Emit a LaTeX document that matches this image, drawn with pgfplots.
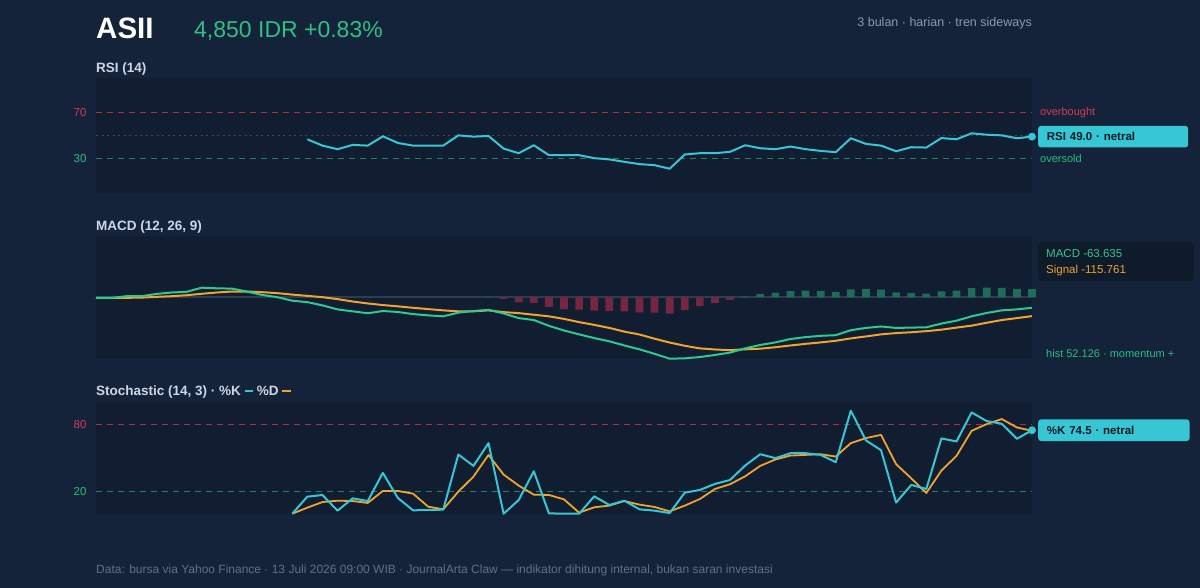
\documentclass[border=0pt]{standalone}
\usepackage{pgfplots}
\pgfplotsset{compat=1.18}
\usepackage{pgfplotstable}
\usepackage{fontspec}
\setmainfont{Liberation Sans}

\definecolor{pagebg}{RGB}{21,35,58}
\definecolor{panelbg}{RGB}{17,30,50}
\definecolor{cyanK}{RGB}{54,198,212}
\definecolor{macdgreen}{RGB}{46,200,145}
\definecolor{sigorange}{RGB}{240,163,45}
\definecolor{obred}{RGB}{214,58,86}
\definecolor{osgreen}{RGB}{38,190,130}
\definecolor{obdash}{RGB}{170,46,74}
\definecolor{osdash}{RGB}{34,130,102}
\definecolor{midgrey}{RGB}{60,75,96}
\definecolor{histred}{RGB}{118,38,64}
\definecolor{histgreen}{RGB}{31,108,88}
\definecolor{zeroline}{RGB}{46,60,80}
\definecolor{titlegrey}{RGB}{205,214,228}
\definecolor{subgrey}{RGB}{140,155,175}
\definecolor{footgrey}{RGB}{95,112,135}
\definecolor{boxdark}{RGB}{15,27,42}
\definecolor{labeltext}{RGB}{12,26,38}
\definecolor{pricegreen}{RGB}{46,192,132}

% RSI(14), daily closes, index 14..62
\pgfplotstableread{
i rsi
14 46.7
15 41.2
16 38.1
17 41.8
18 41.2
19 49.3
20 43.5
21 41.2
22 41.2
23 41.2
24 50.1
25 49.0
26 49.6
27 38.6
28 34.6
29 41.5
30 32.9
31 32.9
32 32.9
33 30.3
34 29.2
35 27.1
36 25.1
37 24.2
38 21.1
39 33.5
40 34.6
41 34.6
42 35.8
43 41.5
44 38.9
45 38.1
46 40.4
47 38.1
48 36.6
49 35.5
50 47.6
51 42.7
52 41.2
53 36.3
54 39.8
55 39.5
56 47.8
57 46.7
58 51.9
59 50.7
60 50.1
61 47.6
62 49.0
}\rsitable

% MACD line and signal line
\pgfplotstableread{
i macd signal
0 -2 -2
1 -3 -3
2 8 -2
3 8 -1
4 22 4
5 31 8
6 35 14
7 61 23
8 57 31
9 55 37
10 37 37
11 16 33
12 2 27
13 -20 18
14 -29 10
15 -49 2
16 -74 -10
17 -86 -25
18 -98 -37
19 -84 -47
20 -90 -55
21 -103 -64
22 -111 -72
23 -117 -80
24 -94 -86
25 -84 -86
26 -77 -80
27 -99 -91
28 -128 -97
29 -140 -107
30 -176 -117
31 -205 -133
32 -229 -153
33 -252 -170
34 -272 -189
35 -298 -212
36 -322 -230
37 -350 -256
38 -380 -280
39 -378 -300
40 -370 -316
41 -357 -323
42 -342 -327
43 -316 -322
44 -295 -318
45 -279 -309
46 -258 -298
47 -246 -288
48 -238 -279
49 -234 -269
50 -203 -254
51 -189 -242
52 -180 -229
53 -189 -221
54 -187 -216
55 -185 -209
56 -162 -200
57 -144 -187
58 -117 -175
59 -96 -157
60 -80 -140
61 -74 -128
62 -63.635 -115.761
}\macdtable

% histogram, negative bars
\pgfplotstableread{
i hist
27 -8
28 -31
29 -33
30 -59
31 -72
32 -76
33 -82
34 -83
35 -86
36 -92
37 -94
38 -100
39 -78
40 -54
41 -34
42 -15
}\histneg

% histogram, positive bars
\pgfplotstableread{
i hist
26 3
43 6
44 23
45 30
46 40
47 42
48 41
49 35
50 51
51 53
52 49
53 32
54 29
55 24
56 38
57 43
58 58
59 61
60 60
61 54
62 52.126
}\histpos

% Stochastic %K and %D
\pgfplotstableread{
i k d
13 0 0
14 15.2 5.4
15 16.7 10.4
16 2.7 11.6
17 13.7 11.3
18 11.3 9.6
19 36.4 20.3
20 14.0 20.3
21 3.0 17.9
22 3.3 6.3
23 3.6 3.9
24 52.8 19.7
25 42.7 33.1
26 63.0 52.5
27 0 34.9
28 12.2 25.1
29 37.9 17.0
30 0.3 16.7
31 0 12.8
32 0 0.9
33 15.5 5.7
34 7.8 7.2
35 11.6 11.3
36 3.9 8.1
37 2.7 6.0
38 0.6 2.1
39 18.8 7.2
40 21.2 13.1
41 26.6 22.1
42 30.1 26.3
43 43.0 33.4
44 53.1 42.7
45 49.6 48.4
46 54.0 51.9
47 54.0 52.5
48 52.5 53.1
49 46.0 51.0
50 91.9 63.0
51 65.4 67.5
52 56.7 70.4
53 9.9 44.2
54 25.7 31.6
55 22.1 18.5
56 67.2 38.5
57 64.5 51.6
58 90.4 74.0
59 82.7 80.0
60 80.3 84.5
61 66.9 77.0
62 74.5 74.0
}\stochtable

\pgfplotsset{
  panel/.style={
    scale only axis, width=936pt, anchor=south west,
    xmin=0, xmax=62, xtick=\empty,
    axis background/.style={fill=panelbg},
    axis line style={draw=none},
    major tick length=0pt,
    clip=false,
    yticklabel style={font=\fontsize{11.5}{13}\selectfont, xshift=-6pt},
  },
  refline/.style={line width=1pt, dash pattern=on 6pt off 5pt},
}

\begin{document}
\begin{tikzpicture}[x=1pt,y=1pt]
\fill[pagebg] (0,0) rectangle (1200,588);
\useasboundingbox (0,0) rectangle (1200,588);

% header
\node[anchor=base west, inner sep=0, text=white, font=\fontsize{29.5}{34}\selectfont\bfseries] at (96,549.7) {ASII};
\node[anchor=base west, inner sep=0, text=pricegreen, font=\fontsize{23}{27}\selectfont] at (194,550.3) {4,850 IDR +0.83\%};
\node[anchor=base east, inner sep=0, text=subgrey, font=\fontsize{12.5}{15}\selectfont] at (1032,561.3) {3 bulan · harian · tren sideways};

% panel titles
\node[anchor=base west, inner sep=0, text=titlegrey, font=\fontsize{13.5}{16}\selectfont\bfseries] at (96,515.3) {RSI (14)};
\node[anchor=base west, inner sep=0, text=titlegrey, font=\fontsize{13.5}{16}\selectfont\bfseries] at (96,357.5) {MACD (12, 26, 9)};
\node[anchor=base west, inner sep=0, text=titlegrey, font=\fontsize{13.5}{16}\selectfont\bfseries] at (96,192) {Stochastic (14, 3) · \%K \textcolor{cyanK}{\rule[4pt]{8.5pt}{2.2pt}} \%D \textcolor{sigorange}{\rule[4pt]{8.5pt}{2.2pt}}};

% ---------- RSI ----------
\begin{axis}[panel, at={(96pt,395pt)}, height=115pt,
  ymin=0, ymax=100, ytick={30,70},
  yticklabels={\textcolor{osgreen}{30},\textcolor{obred}{70}}]
\addplot[obdash, refline] coordinates {(0,70) (62,70)};
\addplot[osdash, refline] coordinates {(0,30) (62,30)};
\addplot[midgrey, line width=1.2pt, dash pattern=on 2pt off 3.5pt] coordinates {(0,50) (62,50)};
\addplot[cyanK, line width=2pt, line join=round] table[x=i, y=rsi] {\rsitable};
\addplot[cyanK, only marks, mark=*, mark size=3.7pt] coordinates {(62,49.0)};
\node[anchor=west, inner sep=0, xshift=8pt, text=obred, font=\fontsize{11}{13}\selectfont] at (axis cs:62,70) {overbought};
\node[anchor=west, inner sep=0, xshift=8pt, text=osgreen, font=\fontsize{11}{13}\selectfont] at (axis cs:62,30) {oversold};
\node[anchor=west, xshift=6pt, fill=cyanK, rounded corners=3pt, text=labeltext,
  font=\fontsize{11.5}{14}\selectfont\bfseries, minimum height=21.7pt, inner xsep=8.7pt,
  text width=132.6pt, align=left] at (axis cs:62,49.0) {RSI 49.0 · netral};
\end{axis}

% ---------- MACD ----------
\begin{axis}[panel, at={(96pt,229pt)}, height=123pt,
  ymin=-382, ymax=382, ytick=\empty]
\addplot[zeroline, line width=2pt] coordinates {(0,0) (62,0)};
\addplot[ybar, bar width=7.7pt, bar shift=0pt, fill=histred, draw=none] table[x=i, y=hist] {\histneg};
\addplot[ybar, bar width=7.7pt, bar shift=0pt, fill=histgreen, draw=none] table[x=i, y=hist] {\histpos};
\addplot[sigorange, line width=2pt, line join=round] table[x=i, y=signal] {\macdtable};
\addplot[macdgreen, line width=2pt, line join=round] table[x=i, y=macd] {\macdtable};
\end{axis}

% MACD readout
\fill[boxdark, rounded corners=4pt] (1038,307) rectangle (1194,346);
\node[anchor=base west, inner sep=0, text=macdgreen, font=\fontsize{11.5}{13}\selectfont] at (1046,330.3) {MACD -63.635};
\node[anchor=base west, inner sep=0, text=sigorange, font=\fontsize{11.5}{13}\selectfont] at (1046,314.7) {Signal -115.761};
\node[anchor=base west, inner sep=0, text=osgreen, font=\fontsize{11}{13}\selectfont] at (1046,230.7) {hist 52.126 · momentum +};

% ---------- Stochastic ----------
\begin{axis}[panel, at={(96pt,74.3pt)}, height=112pt,
  ymin=0, ymax=100, ytick={20,80},
  yticklabels={\textcolor{osgreen}{20},\textcolor{obred}{80}}]
\addplot[obdash, refline] coordinates {(0,80) (62,80)};
\addplot[osdash, refline] coordinates {(0,20) (62,20)};
\addplot[sigorange, line width=1.8pt, line join=round] table[x=i, y=d] {\stochtable};
\addplot[cyanK, line width=2pt, line join=round] table[x=i, y=k] {\stochtable};
\addplot[cyanK, only marks, mark=*, mark size=3.7pt] coordinates {(62,74.5)};
\node[anchor=west, xshift=6pt, fill=cyanK, rounded corners=3pt, text=labeltext,
  font=\fontsize{11.5}{14}\selectfont\bfseries, minimum height=21.7pt, inner xsep=8.7pt,
  text width=134pt, align=left] at (axis cs:62,74.5) {\%K 74.5 · netral};
\end{axis}

% footer
\node[anchor=base west, inner sep=0, text=footgrey, font=\fontsize{12}{14}\selectfont] at (96,14) {Data: bursa via Yahoo Finance · 13 Juli 2026 09:00 WIB · JournalArta Claw — indikator dihitung internal, bukan saran investasi};
\end{tikzpicture}
\end{document}
